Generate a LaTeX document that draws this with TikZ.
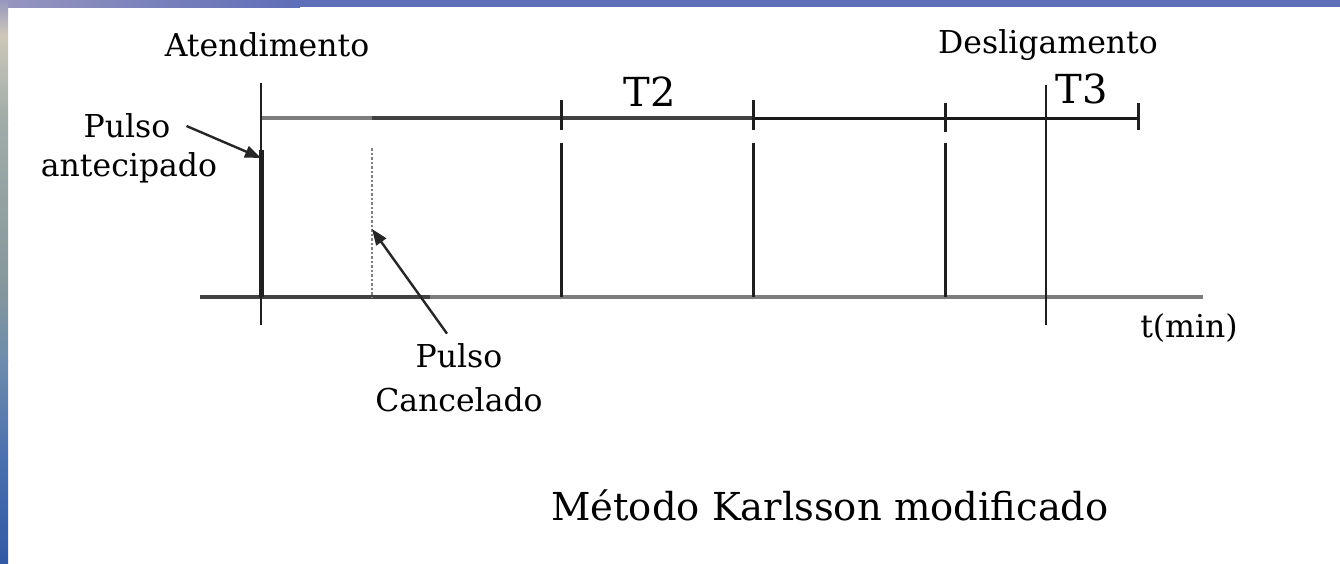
\documentclass[tikz,border=0pt]{standalone}
\usepackage{fontspec}
\setmainfont{DejaVu Serif}
\usetikzlibrary{arrows.meta}
\definecolor{axgray}{RGB}{125,125,125}
\definecolor{axdark}{RGB}{65,65,65}
\definecolor{lav}{RGB}{150,150,190}
\definecolor{beige}{RGB}{205,200,185}
\definecolor{sgreen}{RGB}{160,172,168}
\definecolor{sgreen2}{RGB}{135,152,155}
\definecolor{sblue}{RGB}{110,140,172}
\definecolor{sblue2}{RGB}{75,112,175}
\definecolor{sblue3}{RGB}{50,90,165}
\definecolor{topblue}{RGB}{95,110,185}
\begin{document}
\begin{tikzpicture}[x=1pt,y=-1pt,
  lbl/.style={font=\fontsize{31.5}{34}\selectfont, inner sep=0pt, text=black},
  tlbl/.style={font=\fontsize{40}{44}\selectfont, inner sep=0pt, text=black},
  ttl/.style={font=\fontsize{38.5}{42}\selectfont, inner sep=0pt, text=black},
  axis/.style={line width=4pt},
  pulse/.style={line width=3pt, color=black!88},
  tickmark/.style={line width=3pt, color=black!88},
  ptr/.style={line width=2.4pt, color=black!85, -{Triangle[length=16pt,width=12pt]}}]
\useasboundingbox (0,0) rectangle (1340,563);
\fill[white] (0,0) rectangle (1340,563);
% background strips
\shade[left color=lav, right color=topblue] (0,0) rectangle (300,7);
\fill[topblue] (300,0) rectangle (1340,7);
\shade[top color=lav, bottom color=beige] (0,0) rectangle (8,35);
\shade[top color=beige, bottom color=sgreen] (0,35) rectangle (8,120);
\shade[top color=sgreen, bottom color=sgreen2] (0,120) rectangle (8,280);
\shade[top color=sgreen2, bottom color=sblue] (0,280) rectangle (8,360);
\shade[top color=sblue, bottom color=sblue2] (0,360) rectangle (8,460);
\shade[top color=sblue2, bottom color=sblue3] (0,460) rectangle (8,563);

% coordinates
\coordinate (a1) at (261,83);
\coordinate (a2) at (261,325);
\coordinate (aT) at (261,150);
\coordinate (aB) at (261,297);
\coordinate (u0) at (261,118);
\coordinate (uc) at (372,118);
\coordinate (u3) at (753,118);
\coordinate (uE) at (1138,118);
\coordinate (l0) at (200,297);
\coordinate (lc) at (430,297);
\coordinate (lE) at (1203,297);
\coordinate (d1) at (1046,85);
\coordinate (d2) at (1046,325);
\coordinate (cT) at (372,148);
\coordinate (cB) at (372,297);
\coordinate (antTip) at (261,158);
\coordinate (cancTip) at (372,229);

% axes
\draw[axis, color=axgray] (u0) -- (uc);
\draw[axis, color=axdark, line width=3.5pt] (uc) -- (u3);
\draw[line width=3pt, color=black!90] (u3) -- (uE);
\draw[axis, color=axdark] (l0) -- (lc);
\draw[axis, color=axgray] (lc) -- (lE);

% Atendimento line
\draw[line width=2.5pt, color=black!88] (a1) -- (a2);
\draw[line width=5pt, color=black!88] (aT) -- (aB);
% Desligamento line
\draw[line width=2.5pt, color=black!88] (d1) -- (d2);

% ticks on upper line
\foreach \x/\ya/\yb in {561/100/130, 753/100/130, 945/103/132, 1138/103/130}
  \draw[tickmark] (\x,\ya) -- (\x,\yb);
% pulses
\foreach \x in {561,753,945}
  \draw[pulse] (\x,143) -- (\x,297);
% cancelled pulse
\draw[line width=2.5pt, color=black!50, dash pattern=on 2.5pt off 2pt] (cT) -- (cB);

% labels
\node[lbl] (aten) at (267,45) {Atendimento};
\node[lbl] (desl) at (1048,45) {Desligamento};
\node[tlbl] (t2) at (650,92) {T2};
\node[tlbl] (t3) at (1082,89) {T3};
\node[lbl] (tmin) at (1189,328) {t(min)};
\node[lbl] (pulsoA) at (127,126) {Pulso};
\node[lbl] (antec) at (129,168) {antecipado};
\node[lbl] (pulsoC) at (459,356) {Pulso};
\node[lbl] (canc) at (459,400) {Cancelado};
\node[ttl] (title) at (830,505) {Método Karlsson modificado};

% arrows
\draw[ptr] ([xshift=16pt]pulsoA.east) -- (antTip);
\draw[ptr] ([xshift=-12pt,yshift=10pt]pulsoC.north) -- (cancTip);
\end{tikzpicture}
\end{document}
